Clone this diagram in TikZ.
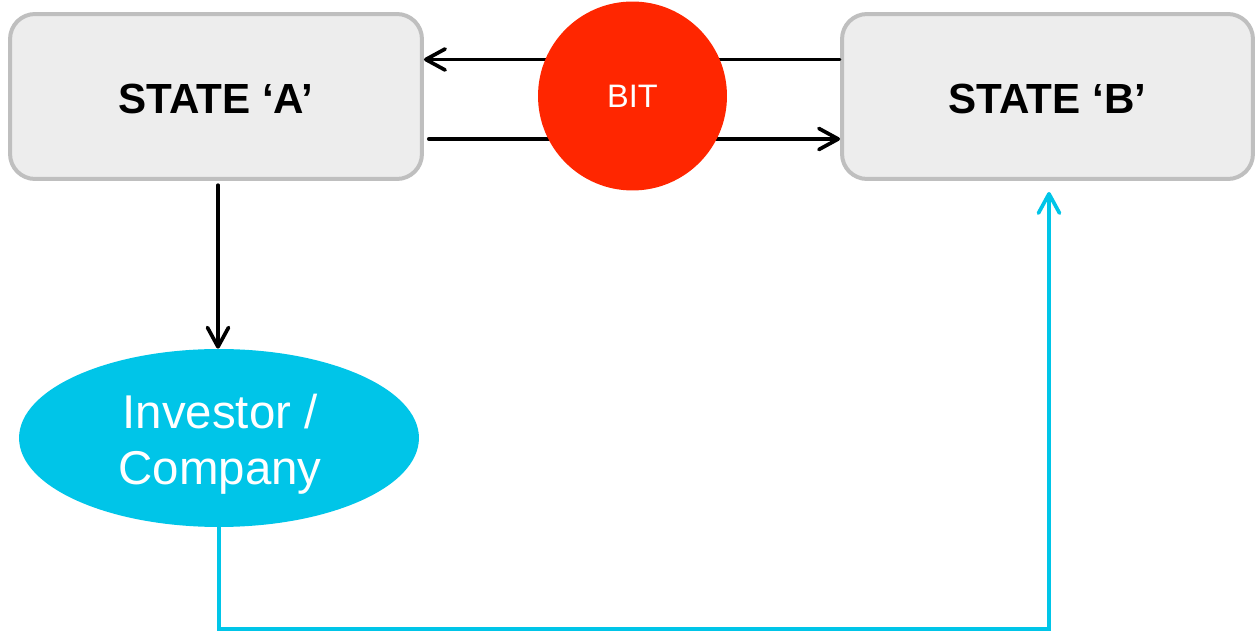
\documentclass[tikz,border=0pt]{standalone}
\usepackage{fontspec}
\setmainfont{Liberation Sans}
\usetikzlibrary{arrows.meta,shapes.geometric,calc}
\definecolor{boxfill}{HTML}{EDEDED}
\definecolor{boxline}{HTML}{BFBFBF}
\definecolor{bitred}{HTML}{FF2600}
\definecolor{flowcyan}{HTML}{00C5E8}
\tikzset{
  statebox/.style={draw=boxline, fill=boxfill, line width=4*0.02cm,
    rounded corners=0.5cm, minimum width=8.24cm, minimum height=3.3cm,
    inner sep=0pt},
  statetext/.style={inner sep=0pt, font=\fontsize{24}{28}\selectfont\bfseries},
  bitnode/.style={circle, fill=bitred, minimum size=3.78cm, inner sep=0pt,
    text=white, font=\fontsize{18.5}{22}\selectfont},
  partynode/.style={ellipse, fill=flowcyan, minimum width=8cm, minimum height=3.56cm,
    inner sep=0pt},
  partytext/.style={inner sep=0pt, text=white, align=center,
    font=\fontsize{27}{31.8}\selectfont},
  barb/.style={-{Straight Barb[length=11pt,width=12pt,round,line width=2.1pt]}},
  flow/.style={line cap=round, line join=round},
}
\begin{document}
\begin{tikzpicture}[x=0.02cm, y=-0.02cm]
  \useasboundingbox (0,0) rectangle (1259,634);
  % the two states
  \node[statebox] (A) at (216,96.5) {};
  \node[statebox, minimum width=8.22cm] (B) at (1047.5,96.5) {};
  \node[statetext] (Atext) at ($(A.center)+(0,2.5)$) {STATE ‘A’};
  \node[statetext] (Btext) at ($(B.center)+(0,2.5)$) {STATE ‘B’};
  % investor / company
  \node[partynode] (P) at (219,438) {};
  \node[partytext] (Ptext) at ($(P.center)+(1,6)$) {Investor /\\Company};
  % exchange arrows between the states
  \coordinate (upper) at (0,59.5);
  \coordinate (lower) at (0,139);
  \draw[barb, flow, line width=2.6*0.02cm] (B.west |- upper) -- (A.east |- upper);
  \draw[barb, flow, line width=4*0.02cm] ($(A.east |- lower)+(5,0)$) -- (B.west |- lower);
  % state A hands over to the investor
  \draw[barb, flow, line width=3.2*0.02cm] ($(A.south)+(2,4)$) -- ($(P.north)+(-1,0)$);
  % return path to state B
  \coordinate (corner1) at (219,629);
  \coordinate (corner2) at (1049,629);
  \coordinate (bin) at (1049,192);
  \draw[barb, flowcyan, line width=3.5*0.02cm, line join=miter]
    (P.south) -- (corner1) -- (corner2) -- (bin);
  % the bit in the middle
  \node[bitnode] (bit) at (632.5,96) {BIT};
\end{tikzpicture}
\end{document}
